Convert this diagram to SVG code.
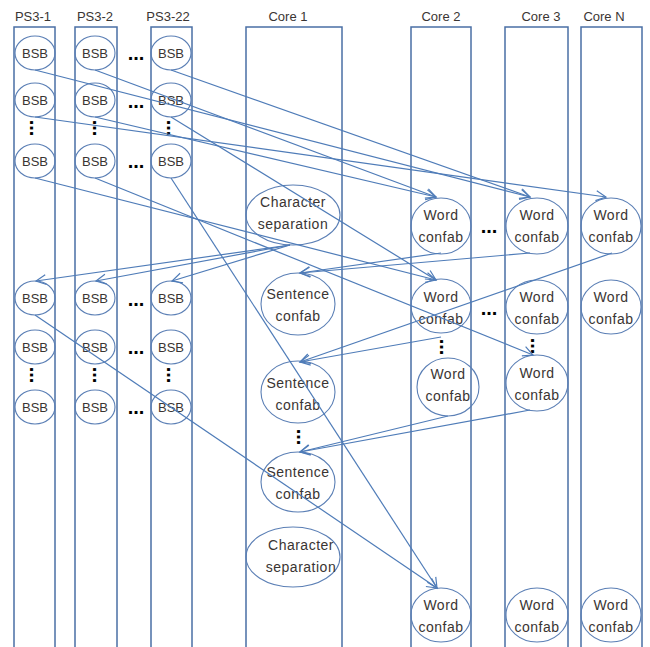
<svg xmlns="http://www.w3.org/2000/svg" width="650" height="647" viewBox="0 0 650 647">
<defs>
<style>
.col{fill:none;stroke:#4a6fa5;stroke-width:1.5}
.nd{fill:none;stroke:#5b7fb5;stroke-width:1.1}
.t{font-family:"Liberation Sans",Arial,sans-serif;font-size:14px;fill:#3a3533;text-anchor:middle;letter-spacing:0.5px}
.b{font-family:"Liberation Sans",Arial,sans-serif;font-size:13px;fill:#3a3533;text-anchor:middle}
.lbl{font-family:"Liberation Sans",Arial,sans-serif;font-size:13px;fill:#3a3533;text-anchor:middle}
.dots{font-family:"Liberation Sans",Arial,sans-serif;font-size:20px;font-weight:bold;fill:#000;text-anchor:middle}
.e{fill:none;stroke:#4f7cb8;stroke-width:1.2;marker-end:url(#ah)}
</style>
<marker id="ah" markerUnits="userSpaceOnUse" markerWidth="14" markerHeight="14" refX="11" refY="6" orient="auto">
<path d="M1,1 L11,6 L1,11" fill="none" stroke="#4f7cb8" stroke-width="1.2"/>
</marker>
</defs>
<rect width="650" height="647" fill="#fff"/>

<g id="columns">
<rect class="col" x="14" y="27" width="41" height="640"/>
<rect class="col" x="75" y="27" width="42" height="640"/>
<rect class="col" x="151" y="27" width="41" height="640"/>
<rect class="col" x="246" y="27" width="96" height="640"/>
<rect class="col" x="411" y="27" width="60" height="640"/>
<rect class="col" x="505" y="27" width="63" height="640"/>
<rect class="col" x="581" y="27" width="61" height="640"/>
<text class="lbl" x="33" y="21">PS3-1</text>
<text class="lbl" x="95" y="21">PS3-2</text>
<text class="lbl" x="168" y="21">PS3-22</text>
<text class="lbl" x="288" y="21">Core 1</text>
<text class="lbl" x="441" y="21">Core 2</text>
<text class="lbl" x="541" y="21">Core 3</text>
<text class="lbl" x="604" y="21">Core N</text>
</g>

<g id="ps3-1-upper">
<ellipse class="nd" cx="35" cy="53" rx="20" ry="17"/><text class="b" x="35" y="58">BSB</text>
<ellipse class="nd" cx="35" cy="100" rx="20" ry="17"/><text class="b" x="35" y="105">BSB</text>
<ellipse class="nd" cx="35" cy="161" rx="20" ry="17"/><text class="b" x="35" y="166">BSB</text>
</g>
<g id="ps3-2-upper">
<ellipse class="nd" cx="95" cy="53" rx="20" ry="17"/><text class="b" x="95" y="58">BSB</text>
<ellipse class="nd" cx="95" cy="100" rx="20" ry="17"/><text class="b" x="95" y="105">BSB</text>
<ellipse class="nd" cx="95" cy="161" rx="20" ry="17"/><text class="b" x="95" y="166">BSB</text>
</g>
<g id="ps3-22-upper">
<ellipse class="nd" cx="171" cy="53" rx="20" ry="17"/><text class="b" x="171" y="58">BSB</text>
<ellipse class="nd" cx="171" cy="100" rx="20" ry="17"/><text class="b" x="171" y="105">BSB</text>
<ellipse class="nd" cx="171" cy="161" rx="20" ry="17"/><text class="b" x="171" y="166">BSB</text>
</g>
<g id="ps3-1-lower">
<ellipse class="nd" cx="35" cy="298" rx="20" ry="17"/><text class="b" x="35" y="303">BSB</text>
<ellipse class="nd" cx="35" cy="347" rx="20" ry="17"/><text class="b" x="35" y="352">BSB</text>
<ellipse class="nd" cx="35" cy="407" rx="20" ry="17"/><text class="b" x="35" y="412">BSB</text>
</g>
<g id="ps3-2-lower">
<ellipse class="nd" cx="95" cy="298" rx="20" ry="17"/><text class="b" x="95" y="303">BSB</text>
<ellipse class="nd" cx="95" cy="347" rx="20" ry="17"/><text class="b" x="95" y="352">BSB</text>
<ellipse class="nd" cx="95" cy="407" rx="20" ry="17"/><text class="b" x="95" y="412">BSB</text>
</g>
<g id="ps3-22-lower">
<ellipse class="nd" cx="171" cy="298" rx="20" ry="17"/><text class="b" x="171" y="303">BSB</text>
<ellipse class="nd" cx="171" cy="347" rx="20" ry="17"/><text class="b" x="171" y="352">BSB</text>
<ellipse class="nd" cx="171" cy="407" rx="20" ry="17"/><text class="b" x="171" y="412">BSB</text>
</g>

<g id="core1">
<ellipse class="nd" cx="293" cy="215" rx="47" ry="30"/><text class="t" x="293" y="207">Character</text><text class="t" x="293" y="229">separation</text>
<ellipse class="nd" cx="298" cy="304" rx="37" ry="31"/><text class="t" x="298" y="299">Sentence</text><text class="t" x="298" y="321">confab</text>
<ellipse class="nd" cx="298" cy="392" rx="37" ry="31"/><text class="t" x="298" y="388">Sentence</text><text class="t" x="298" y="410">confab</text>
<ellipse class="nd" cx="298" cy="482" rx="37" ry="30"/><text class="t" x="298" y="477">Sentence</text><text class="t" x="298" y="499">confab</text>
<ellipse class="nd" cx="293" cy="557" rx="47" ry="30"/><text class="t" x="301" y="550">Character</text><text class="t" x="301" y="572">separation</text>
</g>
<g id="core2">
<ellipse class="nd" cx="441" cy="226" rx="30" ry="28"/><text class="t" x="441" y="220">Word</text><text class="t" x="441" y="242">confab</text>
<ellipse class="nd" cx="441" cy="306" rx="30" ry="27"/><text class="t" x="441" y="302">Word</text><text class="t" x="441" y="324">confab</text>
<ellipse class="nd" cx="448" cy="387" rx="31" ry="29"/><text class="t" x="448" y="379">Word</text><text class="t" x="448" y="401">confab</text>
<ellipse class="nd" cx="441" cy="615" rx="30" ry="27"/><text class="t" x="441" y="610">Word</text><text class="t" x="441" y="632">confab</text>
</g>
<g id="core3">
<ellipse class="nd" cx="537" cy="226" rx="31" ry="28"/><text class="t" x="537" y="220">Word</text><text class="t" x="537" y="242">confab</text>
<ellipse class="nd" cx="537" cy="307" rx="31" ry="27"/><text class="t" x="537" y="302">Word</text><text class="t" x="537" y="324">confab</text>
<ellipse class="nd" cx="537" cy="383" rx="31" ry="28"/><text class="t" x="537" y="378">Word</text><text class="t" x="537" y="400">confab</text>
<ellipse class="nd" cx="537" cy="615" rx="31" ry="27"/><text class="t" x="537" y="610">Word</text><text class="t" x="537" y="632">confab</text>
</g>
<g id="coreN">
<ellipse class="nd" cx="611" cy="226" rx="30" ry="28"/><text class="t" x="611" y="220">Word</text><text class="t" x="611" y="242">confab</text>
<ellipse class="nd" cx="611" cy="307" rx="30" ry="27"/><text class="t" x="611" y="302">Word</text><text class="t" x="611" y="324">confab</text>
<ellipse class="nd" cx="611" cy="615" rx="30" ry="27"/><text class="t" x="611" y="610">Word</text><text class="t" x="611" y="632">confab</text>
</g>

<g id="ellipses-dots">
<text class="dots" x="136" y="60">...</text>
<text class="dots" x="136" y="108">...</text>
<text class="dots" x="136" y="168">...</text>
<text class="dots" x="136" y="306">...</text>
<text class="dots" x="136" y="354">...</text>
<text class="dots" x="136" y="414">...</text>
<text class="dots" x="489" y="233">...</text>
<text class="dots" x="489" y="315">...</text>
<text class="dots" transform="translate(30,128) rotate(90)" x="0" y="0">...</text>
<text class="dots" transform="translate(93,128) rotate(90)" x="0" y="0">...</text>
<text class="dots" transform="translate(167,128) rotate(90)" x="0" y="0">...</text>
<text class="dots" transform="translate(30,375) rotate(90)" x="0" y="0">...</text>
<text class="dots" transform="translate(93,375) rotate(90)" x="0" y="0">...</text>
<text class="dots" transform="translate(167,375) rotate(90)" x="0" y="0">...</text>
<text class="dots" transform="translate(297,437) rotate(90)" x="0" y="0">...</text>
<text class="dots" transform="translate(440,347) rotate(90)" x="0" y="0">...</text>
<text class="dots" transform="translate(531,346) rotate(90)" x="0" y="0">...</text>
</g>

<g id="connectors">
<line class="e" x1="35" y1="70" x2="530" y2="197"/>
<line class="e" x1="95" y1="70" x2="436" y2="197"/>
<line class="e" x1="171" y1="70" x2="530" y2="197"/>
<line class="e" x1="95" y1="117" x2="436" y2="197"/>
<line class="e" x1="35" y1="117" x2="606" y2="197"/>
<line class="e" x1="171" y1="117" x2="436" y2="280"/>
<line class="e" x1="35" y1="178" x2="436" y2="280"/>
<line class="e" x1="95" y1="178" x2="533" y2="355"/>
<line class="e" x1="171" y1="178" x2="437" y2="588"/>
<line class="e" x1="290" y1="245" x2="36" y2="281"/>
<line class="e" x1="290" y1="245" x2="96" y2="281"/>
<line class="e" x1="290" y1="245" x2="172" y2="281"/>
<line class="e" x1="441" y1="253" x2="300" y2="273"/>
<line class="e" x1="530" y1="253" x2="300" y2="273"/>
<line class="e" x1="612" y1="253" x2="300" y2="362"/>
<line class="e" x1="441" y1="337" x2="300" y2="362"/>
<line class="e" x1="448" y1="416" x2="300" y2="452"/>
<line class="e" x1="530" y1="410" x2="300" y2="452"/>
<line class="e" x1="35" y1="315" x2="437" y2="588"/>
</g>
</svg>
